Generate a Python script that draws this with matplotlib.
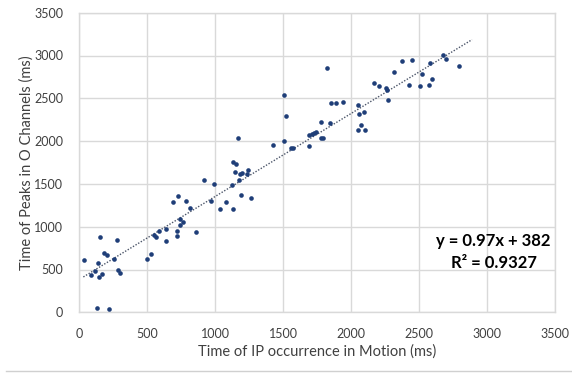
import matplotlib
matplotlib.use("Agg")
import matplotlib.pyplot as plt
from matplotlib.lines import Line2D

plt.rcParams['font.family'] = ['Lato', 'DejaVu Sans']

ip_time = [37, 151, 281, 181, 205, 137, 256, 115, 86, 146, 166, 290, 303, 130, 222,
           500, 527, 549, 569, 586, 642, 642, 691, 725, 788, 818, 745, 764, 740, 720,
           720, 857, 918, 994, 967, 1040, 1079, 1133, 1123, 1193, 1262, 1179, 1147,
           1133, 1152, 1181, 1196, 1233, 1243, 1169, 1428, 1508, 1523, 1508, 1562,
           1574, 1694, 1694, 1711, 1728, 1743, 1782, 1796, 1782, 1847, 1826, 1853,
           1889, 1943, 2055, 2060, 2096, 2074, 2048, 2104, 2167, 2206, 2260, 2265,
           2272, 2316, 2372, 2451, 2424, 2504, 2519, 2575, 2592, 2580, 2675, 2697, 2795]
peak_time = [607, 876, 841, 689, 666, 580, 626, 486, 432, 416, 444, 494, 459, 47, 39,
             619, 681, 907, 876, 950, 977, 830, 1285, 1359, 1301, 1219, 1094, 1055, 1020,
             954, 895, 942, 1546, 1499, 1304, 1204, 1289, 1207, 1484, 1374, 1339, 1543,
             1640, 1760, 1737, 1620, 1628, 1613, 1667, 2037, 1959, 1998, 2294, 2536,
             1924, 1920, 1940, 2076, 2087, 2099, 2111, 2040, 2033, 2220, 2216, 2859,
             2449, 2442, 2461, 2419, 2321, 2341, 2189, 2127, 2130, 2676, 2641, 2621,
             2594, 2477, 2812, 2933, 2945, 2656, 2641, 2781, 2660, 2730, 2917, 3003,
             2964, 2878]

slope = 0.97
intercept = 382
trend_x = [32, 2890]
ticks = [0, 500, 1000, 1500, 2000, 2500, 3000, 3500]

fig = plt.figure(figsize=(5.72, 3.75), dpi=100)
ax = fig.add_axes([79/572, (375-312.3)/375, (555-79)/572, (312.3-12.7)/375])

grid_c = '#d9d9d9'
ax.set_xlim(0, 3500)
ax.set_ylim(0, 3500)
ax.set_xticks(ticks)
ax.set_yticks(ticks)
ax.grid(True, color=grid_c, linewidth=1.0)
ax.set_axisbelow(True)
for s in ax.spines.values():
    s.set_color(grid_c)
    s.set_linewidth(1.0)
ax.tick_params(length=0, labelsize=9, colors='#404040')
ax.tick_params(axis='y', pad=11.5)
ax.tick_params(axis='x', pad=11)

ax.plot(trend_x, [slope * v + intercept for v in trend_x], linestyle=(0, (1, 1.2)),
        color='#4a5468', linewidth=1.0, zorder=2)
ax.scatter(ip_time, peak_time, s=11, color='#1f3e78', zorder=3, linewidths=0)

ax.set_xlabel('Time of IP occurrence in Motion (ms)', fontsize=10.5, color='#404040', va='center')
ax.set_ylabel('Time of Peaks in O Channels (ms)', fontsize=10.5, color='#404040', va='center')
ax.xaxis.set_label_coords(0.5, (312.3 - 352) / 299.6)
ax.yaxis.set_label_coords((27 - 79) / 476, 0.5)

fig.text(550/572, 1 - 241/375, f'y = {slope}x + {intercept}', ha='right', va='center',
         fontsize=12, fontweight='bold', color='#000000')
fig.text(537/572, 1 - 263/375, 'R² = 0.9327', ha='right', va='center',
         fontsize=12, fontweight='bold', color='#000000')

fig.add_artist(Line2D([6/572, 1], [1 - 371/375, 1 - 371/375], color='#d0d0d0', linewidth=1.0,
                      transform=fig.transFigure))

fig.savefig('out.png', dpi=100)
